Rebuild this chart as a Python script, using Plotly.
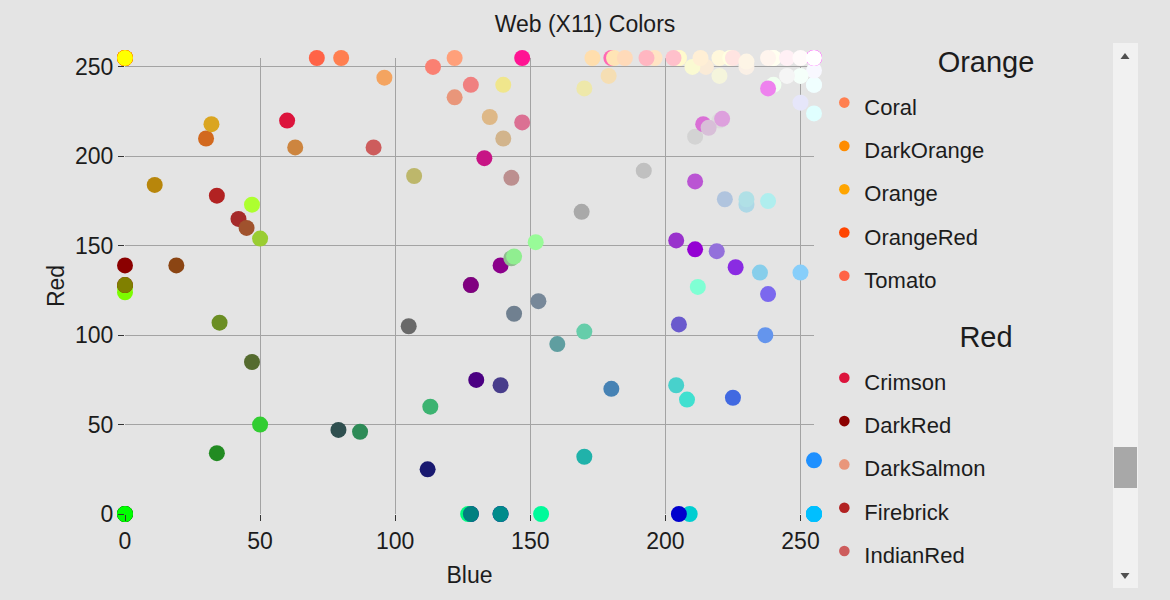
import plotly.graph_objects as go

# ---- data: X11 web colours, grouped by family ----
color_names = [
    # Pink
    "MediumVioletRed", "DeepPink", "PaleVioletRed", "HotPink", "LightPink", "Pink",
    # Red
    "DarkRed", "Red", "Firebrick", "Crimson", "IndianRed", "LightCoral", "Salmon", "DarkSalmon", "LightSalmon",
    # Orange
    "OrangeRed", "Tomato", "DarkOrange", "Coral", "Orange",
    # Yellow
    "DarkKhaki", "Gold", "Khaki", "PeachPuff", "Yellow", "PaleGoldenrod", "Moccasin", "PapayaWhip",
    "LightGoldenrodYellow", "LemonChiffon", "LightYellow",
    # Brown
    "Maroon", "Brown", "SaddleBrown", "Sienna", "Chocolate", "DarkGoldenrod", "Peru", "RosyBrown", "Goldenrod",
    "SandyBrown", "Tan", "Burlywood", "Wheat", "NavajoWhite", "Bisque", "BlanchedAlmond", "Cornsilk",
    # Purple
    "Indigo", "Purple", "DarkMagenta", "DarkViolet", "DarkSlateBlue", "BlueViolet", "DarkOrchid", "Fuchsia",
    "Magenta", "SlateBlue", "MediumSlateBlue", "MediumOrchid", "MediumPurple", "Orchid", "Violet", "Plum",
    "Thistle", "Lavender",
    # Blue
    "MidnightBlue", "Navy", "DarkBlue", "MediumBlue", "Blue", "RoyalBlue", "SteelBlue", "DodgerBlue",
    "DeepSkyBlue", "CornflowerBlue", "SkyBlue", "LightSkyBlue", "LightSteelBlue", "LightBlue", "PowderBlue",
    # Cyan
    "Teal", "DarkCyan", "LightSeaGreen", "CadetBlue", "DarkTurquoise", "MediumTurquoise", "Turquoise", "Aqua",
    "Cyan", "Aquamarine", "PaleTurquoise", "LightCyan",
    # Green
    "DarkGreen", "Green", "DarkOliveGreen", "ForestGreen", "SeaGreen", "Olive", "OliveDrab", "MediumSeaGreen",
    "LimeGreen", "Lime", "SpringGreen", "MediumSpringGreen", "DarkSeaGreen", "MediumAquamarine", "YellowGreen",
    "LawnGreen", "Chartreuse", "LightGreen", "GreenYellow", "PaleGreen",
    # White
    "MistyRose", "AntiqueWhite", "Linen", "Beige", "WhiteSmoke", "LavenderBlush", "OldLace", "AliceBlue",
    "Seashell", "GhostWhite", "Honeydew", "FloralWhite", "Azure", "MintCream", "Snow", "Ivory", "White",
    # Gray
    "Black", "DarkSlateGray", "DimGray", "SlateGray", "Gray", "LightSlateGray", "DarkGray", "Silver",
    "LightGray", "Gainsboro",
]

color_family = (
    ["Pink"] * 6 + ["Red"] * 9 + ["Orange"] * 5 + ["Yellow"] * 11 + ["Brown"] * 17 +
    ["Purple"] * 18 + ["Blue"] * 15 + ["Cyan"] * 12 + ["Green"] * 20 + ["White"] * 17 + ["Gray"] * 10
)

red = [
    199, 255, 219, 255, 255, 255,
    139, 255, 178, 220, 205, 240, 250, 233, 255,
    255, 255, 255, 255, 255,
    189, 255, 240, 255, 255, 238, 255, 255, 250, 255, 255,
    128, 165, 139, 160, 210, 184, 205, 188, 218, 244, 210, 222, 245, 255, 255, 255, 255,
    75, 128, 139, 148, 72, 138, 153, 255, 255, 106, 123, 186, 147, 218, 238, 221, 216, 230,
    25, 0, 0, 0, 0, 65, 70, 30, 0, 100, 135, 135, 176, 173, 176,
    0, 0, 32, 95, 0, 72, 64, 0, 0, 127, 175, 224,
    0, 0, 85, 34, 46, 128, 107, 60, 50, 0, 0, 0, 143, 102, 154, 124, 127, 144, 173, 152,
    255, 250, 250, 245, 245, 255, 253, 240, 255, 248, 240, 255, 240, 245, 255, 255, 255,
    0, 47, 105, 112, 128, 119, 169, 192, 211, 220,
]

green = [
    21, 20, 112, 105, 182, 192,
    0, 0, 34, 20, 92, 128, 128, 150, 160,
    69, 99, 140, 127, 165,
    183, 215, 230, 218, 255, 232, 228, 239, 250, 250, 255,
    0, 42, 69, 82, 105, 134, 133, 143, 165, 164, 180, 184, 222, 222, 228, 235, 248,
    0, 0, 0, 0, 61, 43, 50, 0, 0, 90, 104, 85, 112, 112, 130, 160, 191, 230,
    25, 0, 0, 0, 0, 105, 130, 144, 191, 149, 206, 206, 196, 216, 224,
    128, 139, 178, 158, 206, 209, 224, 255, 255, 255, 238, 255,
    100, 128, 107, 139, 139, 128, 142, 179, 205, 255, 255, 250, 188, 205, 205, 252, 255, 238, 255, 251,
    228, 235, 240, 245, 245, 240, 245, 248, 245, 248, 255, 250, 255, 255, 250, 255, 255,
    0, 79, 105, 128, 128, 136, 169, 192, 211, 220,
]

blue = [
    133, 147, 147, 180, 193, 203,
    0, 0, 34, 60, 92, 128, 114, 122, 122,
    0, 71, 0, 80, 0,
    107, 0, 140, 185, 0, 170, 181, 213, 210, 205, 224,
    0, 42, 19, 45, 30, 11, 63, 143, 32, 96, 140, 135, 179, 173, 196, 205, 220,
    130, 128, 139, 211, 139, 226, 204, 255, 255, 205, 238, 211, 219, 214, 238, 221, 216, 250,
    112, 128, 139, 205, 255, 225, 180, 255, 255, 237, 235, 250, 222, 230, 230,
    128, 139, 170, 160, 209, 204, 208, 255, 255, 212, 238, 255,
    0, 0, 47, 34, 87, 0, 35, 113, 50, 0, 127, 154, 143, 170, 50, 0, 0, 144, 47, 152,
    225, 215, 230, 220, 245, 245, 230, 255, 238, 255, 240, 240, 255, 250, 250, 240, 255,
    0, 79, 105, 144, 128, 153, 169, 192, 211, 220,
]

x_ticks = [0, 50, 100, 150, 200, 250]
y_ticks = [0, 50, 100, 150, 200, 250]

BG = "#e4e4e4"
FONT = "Liberation Sans, Arial, Helvetica, sans-serif"
TXT = "#1c1c1c"

fig = go.Figure()
order = sorted(range(len(color_names)), key=lambda i: color_names[i])
for i in order:
    fig.add_trace(go.Scatter(
        x=[blue[i]], y=[red[i]],
        mode="markers",
        name='<span style="font-size:22px">%s</span>' % color_names[i],
        legendgroup=color_family[i],
        legendgrouptitle=dict(text=color_family[i], font=dict(size=29, color=TXT, family=FONT)),
        marker=dict(size=16, color="rgb(%d,%d,%d)" % (red[i], green[i], blue[i]), line=dict(width=0)),
        cliponaxis=False,
        hovertemplate="%s<br>Blue %%{x}<br>Red %%{y}<extra></extra>" % color_names[i],
    ))

axis_common = dict(
    range=[0, 255],
    tickmode="array",
    showgrid=True,
    gridcolor="#a3a3a3",
    gridwidth=1,
    zeroline=False,
    showline=False,
    ticks="outside",
    ticklen=6,
    tickwidth=1,
    tickcolor="#333333",
    tickfont=dict(size=23, color=TXT, family=FONT),
)

# native-looking scrollbar track + arrows for the legend (paper coordinates)
PLOT_L, PLOT_W, PLOT_B, PLOT_H = 125, 689, 514, 456
def px(v):
    return (v - PLOT_L) / PLOT_W
def py(v):
    return (PLOT_B - v) / PLOT_H

shapes = [
    dict(type="rect", xref="paper", yref="paper", x0=px(1113), x1=px(1138), y0=py(588), y1=py(43),
         fillcolor="#f1f1f1", line=dict(width=0), layer="below"),
    dict(type="path", xref="paper", yref="paper",
         path="M %f %f L %f %f L %f %f Z" % (px(1120.5), py(59), px(1129.5), py(59), px(1125), py(53)),
         fillcolor="#505050", line=dict(width=0)),
    dict(type="path", xref="paper", yref="paper",
         path="M %f %f L %f %f L %f %f Z" % (px(1120.5), py(573), px(1129.5), py(573), px(1125), py(579)),
         fillcolor="#505050", line=dict(width=0)),
]

fig.update_layout(
    width=1170,
    height=600,
    paper_bgcolor=BG,
    plot_bgcolor=BG,
    font=dict(family=FONT, color=TXT),
    margin=dict(l=125, r=356, t=58, b=86, autoexpand=False),
    title=dict(text="Web (X11) Colors", x=0.5, xanchor="center", y=0.96, yanchor="middle",
               font=dict(size=23, color=TXT, family=FONT)),
    xaxis=dict(axis_common, tickvals=x_ticks,
               title=dict(text="Blue", font=dict(size=23, color=TXT, family=FONT), standoff=14)),
    yaxis=dict(axis_common, tickvals=y_ticks,
               title=dict(text="Red", font=dict(size=23, color=TXT, family=FONT), standoff=3)),
    legend=dict(
        x=1.015, xanchor="left", y=1.04, yanchor="top",
        font=dict(size=31, color=TXT, family=FONT),
        bgcolor="rgba(0,0,0,0)",
        tracegroupgap=18,
        maxheight=540,
    ),
    shapes=shapes,
    showlegend=True,
)

post = r"""
document.body.style.margin = '0';
var gd = document.getElementById('{plot_id}');
var lg = gd.querySelector('g.legend');
function titleEl() {
  var ts = lg.querySelectorAll('text');
  for (var i = 0; i < ts.length; i++) { if (ts[i].textContent === 'Orange') return ts[i]; }
  return null;
}
function cy(el) { var r = el.getBoundingClientRect(); return (r.top + r.bottom) / 2; }
function wheel(d) { lg.dispatchEvent(new WheelEvent('wheel', {deltaY: d, bubbles: true, cancelable: true})); }
var t = lg ? titleEl() : null;
if (lg && t) {
  var target = 62;
  var y0 = cy(t);
  wheel(20);
  var y1 = cy(t);
  var k = (y0 - y1) / 20;
  if (k > 0) {
    wheel((y1 - target) / k);
    for (var j = 0; j < 20; j++) {
      var yy = cy(t);
      if (Math.abs(yy - target) < 0.5) break;
      wheel((yy - target) / k);
    }
  }
}
if (lg) {
  // smaller legend dots
  lg.querySelectorAll('path.scatterpts').forEach(function(p) {
    var tr = p.getAttribute('transform') || '';
    p.setAttribute('transform', tr + ' scale(0.66)');
  });
  // centre the group titles
  lg.querySelectorAll('text').forEach(function(tx) {
    if (tx.style.fontSize === '29px') {
      var r = tx.getBoundingClientRect();
      var dx = 986 - (r.left + r.right) / 2;
      var x = parseFloat(tx.getAttribute('x') || '0');
      tx.setAttribute('x', x + dx);
    }
  });
  // restyle the scroll thumb like a native one
  var sb = lg.querySelector('rect.scrollbar');
  if (sb) {
    var r = sb.getBoundingClientRect();
    var sx = parseFloat(sb.getAttribute('x') || '0');
    var sy = parseFloat(sb.getAttribute('y') || '0');
    sb.setAttribute('x', sx + (1114 - r.left));
    sb.setAttribute('y', sy + (447 - r.top));
    sb.setAttribute('width', 23);
    sb.setAttribute('height', 41);
    sb.setAttribute('rx', 0); sb.setAttribute('ry', 0);
    sb.style.fill = '#a8a8a8';
    sb.style.fillOpacity = 1;
  }
}
"""

fig.write_html("out.html", post_script=post, config={"displayModeBar": False})
